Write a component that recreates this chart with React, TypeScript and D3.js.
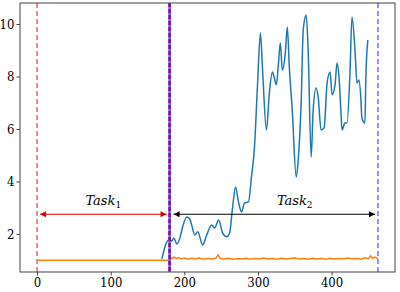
import { useEffect, useRef } from 'react';
import * as d3 from 'd3';

// blue series (training loss on task 2)
const blueX = [169.6, 175, 179.1, 183.1, 185.8, 189.9, 194, 198, 203.4, 207.4, 210, 214.2, 218.2, 225, 230.4,
  237.2, 241.2, 246.6, 252, 257.4, 261.5, 265.5, 269.6, 273.6, 277.7, 281.8, 287.2, 291.2, 295.3, 299.3,
  303.4, 306.1, 311.5, 315.5, 319.6, 322.3, 325, 327.7, 330.4, 333.1, 337.2, 339.9, 342.6, 346.6, 352,
  354.7, 358.8, 361.5, 365.5, 368.2, 372.3, 375, 379, 381.8, 385.8, 389.9, 393.9, 398, 400.7, 404.7,
  407.4, 410.1, 412.8, 414.2, 418.2, 420.9, 425, 427.7, 431.8, 434.5, 437.2, 439.9, 441.2, 445.3, 446.6, 449.3];
const blueY = [1.05, 1.62, 1.77, 1.73, 1.85, 1.62, 1.85, 2.3, 2.65, 2.57, 2.34, 1.96, 2.08, 1.58, 1.96,
  2.34, 2.23, 2.53, 2.04, 1.89, 2.04, 2.99, 3.79, 3.22, 2.84, 3.18, 3.22, 4.17, 5.31, 7.6,
  9.66, 8.36, 5.96, 7.37, 8.17, 7.94, 7.68, 8.44, 9.28, 8.25, 8.9, 9.89, 8.36, 6.72, 4.17,
  4.82, 7.1, 9.77, 10.34, 9.01, 4.93, 6.72, 7.56, 7.22, 5.96, 6.04, 7.75, 8.17, 7.3, 7.68,
  8.51, 7.98, 6.61, 5.96, 6.23, 6.23, 8.13, 10.27, 9.01, 7.75, 7.87, 7.1, 6.42, 6.23, 7.98, 9.39];

// orange series (flat, small wiggles after the switch)
const orangeX = [0, 180, 181, 183, 186, 189, 192, 196, 200, 205, 210, 215, 220, 226, 232, 238, 243, 246, 249,
  254, 260, 266, 272, 278, 284, 290, 296, 302, 308, 314, 320, 326, 332, 338, 344, 350, 356, 362, 368, 374,
  380, 386, 392, 398, 404, 410, 416, 422, 428, 434, 440, 445, 450, 453, 456, 459, 463];
const orangeY = [1.0, 1.0, 1.1, 1.05, 1.12, 1.06, 1.1, 1.05, 1.08, 1.04, 1.07, 1.05, 1.08, 1.04, 1.06, 1.05, 1.08, 1.2, 1.06,
  1.05, 1.07, 1.04, 1.06, 1.05, 1.07, 1.04, 1.06, 1.05, 1.08, 1.05, 1.06, 1.04, 1.07, 1.05, 1.06, 1.08, 1.05, 1.06, 1.04, 1.07,
  1.05, 1.06, 1.04, 1.07, 1.05, 1.06, 1.05, 1.08, 1.05, 1.06, 1.04, 1.09, 1.06, 1.16, 1.07, 1.12, 1.06];

const xTicks = [0, 100, 200, 300, 400];
const yTicks = [2, 4, 6, 8, 10];
const taskBounds = [0, 180, 463];
const arrowLevel = 2.75;

export default function App() {
  const svgRef = useRef<SVGSVGElement>(null);

  useEffect(() => {
    document.body.style.margin = '0';
    if (!svgRef.current) return;
    const svg = d3.select(svgRef.current);
    svg.selectAll('*').remove();

    const width = 400;
    const height = 292;
    const margin = { top: 3, right: 5, bottom: 20, left: 20 };

    const x = d3.scaleLinear().domain([-23.15, 486.15]).range([margin.left, width - margin.right]);
    const y = d3.scaleLinear().domain([0.55, 10.8]).range([height - margin.bottom, margin.top]);

    const defs = svg.append('defs');
    const marker = (id: string, color: string) => {
      defs.append('marker')
        .attr('id', id)
        .attr('viewBox', '0 0 10 10')
        .attr('refX', 10)
        .attr('refY', 5)
        .attr('markerWidth', 7)
        .attr('markerHeight', 6)
        .attr('markerUnits', 'userSpaceOnUse')
        .attr('orient', 'auto-start-reverse')
        .append('path')
        .attr('d', 'M0,0 L10,5 L0,10 Z')
        .attr('fill', color);
    };
    marker('redHead', '#d40000');
    marker('blackHead', '#000');

    const font = "'DejaVu Serif', serif";

    const blueData = blueX.map((v, i) => [v, blueY[i]] as [number, number]);
    const orangeData = orangeX.map((v, i) => [v, orangeY[i]] as [number, number]);
    const smooth = d3.line<[number, number]>()
      .x(d => x(d[0]))
      .y(d => y(d[1]))
      .curve(d3.curveMonotoneX);

    svg.append('path')
      .datum(blueData)
      .attr('fill', 'none')
      .attr('stroke', '#1f77b4')
      .attr('stroke-width', 1.5)
      .attr('d', smooth);

    svg.append('path')
      .datum(orangeData)
      .attr('fill', 'none')
      .attr('stroke', '#ff7f0e')
      .attr('stroke-width', 1.5)
      .attr('d', d3.line<[number, number]>().x(d => x(d[0])).y(d => y(d[1])));

    // vertical task boundaries
    const yTop = margin.top;
    const yBot = height - margin.bottom;
    svg.append('line')
      .attr('x1', x(taskBounds[0])).attr('x2', x(taskBounds[0]))
      .attr('y1', yTop).attr('y2', yBot)
      .attr('stroke', '#f06464').attr('stroke-width', 1.5)
      .attr('stroke-dasharray', '5,3');
    svg.append('line')
      .attr('x1', x(taskBounds[1])).attr('x2', x(taskBounds[1]))
      .attr('y1', yTop).attr('y2', yBot)
      .attr('stroke', '#6a5ae8').attr('stroke-width', 2.5);
    svg.append('line')
      .attr('x1', x(taskBounds[1])).attr('x2', x(taskBounds[1]))
      .attr('y1', yTop).attr('y2', yBot)
      .attr('stroke', '#8a0a9a').attr('stroke-width', 2.5)
      .attr('stroke-dasharray', '4,2');
    svg.append('line')
      .attr('x1', x(taskBounds[2])).attr('x2', x(taskBounds[2]))
      .attr('y1', yTop).attr('y2', yBot)
      .attr('stroke', '#7b6ff2').attr('stroke-width', 1.5)
      .attr('stroke-dasharray', '5,3');

    // arrows
    svg.append('line')
      .attr('x1', x(taskBounds[0]) + 3).attr('x2', x(taskBounds[1]) - 3)
      .attr('y1', y(arrowLevel)).attr('y2', y(arrowLevel))
      .attr('stroke', '#d40000').attr('stroke-width', 1.2)
      .attr('marker-start', 'url(#redHead)').attr('marker-end', 'url(#redHead)');
    svg.append('line')
      .attr('x1', x(taskBounds[1]) + 4).attr('x2', x(taskBounds[2]) - 3)
      .attr('y1', y(arrowLevel)).attr('y2', y(arrowLevel))
      .attr('stroke', '#000').attr('stroke-width', 1.2)
      .attr('marker-start', 'url(#blackHead)').attr('marker-end', 'url(#blackHead)');

    // task labels
    const label = (cx: number, sub: string) => {
      const t = svg.append('text')
        .attr('x', x(cx))
        .attr('y', y(3.1))
        .attr('text-anchor', 'middle')
        .style('font-family', font)
        .style('font-style', 'italic')
        .style('font-size', '13px')
        .attr('fill', '#000');
      t.append('tspan').text('Task');
      t.append('tspan').style('font-style', 'normal').style('font-size', '9px').attr('dy', 3).text(sub);
    };
    label(90, '1');
    label(350, '2');

    // spines
    svg.append('rect')
      .attr('x', margin.left).attr('y', margin.top)
      .attr('width', width - margin.left - margin.right)
      .attr('height', height - margin.top - margin.bottom)
      .attr('fill', 'none').attr('stroke', '#444').attr('stroke-width', 1);

    // axes
    const tickFont = "'DejaVu Serif Condensed', 'DejaVu Serif', serif";
    const xAxis = svg.append('g')
      .attr('transform', `translate(0,${yBot})`)
      .call(d3.axisBottom(x).tickValues(xTicks).tickSize(3.5).tickPadding(2).tickFormat(d3.format('d')));
    xAxis.select('.domain').remove();
    xAxis.attr('font-family', null).attr('font-size', null);
    xAxis.selectAll('text').style('font-family', tickFont).style('font-size', '13px').attr('fill', '#000');
    xAxis.selectAll('line').attr('stroke', '#444');

    const yAxis = svg.append('g')
      .attr('transform', `translate(${margin.left},0)`)
      .call(d3.axisLeft(y).tickValues(yTicks).tickSize(3.5).tickPadding(2).tickFormat(d3.format('d')));
    yAxis.select('.domain').remove();
    yAxis.attr('font-family', null).attr('font-size', null);
    yAxis.selectAll('text').style('font-family', tickFont).style('font-size', '13px').attr('fill', '#000');
    yAxis.selectAll('line').attr('stroke', '#444');
  }, []);

  return <svg ref={svgRef} width={400} height={292} style={{ display: 'block' }} />;
}
